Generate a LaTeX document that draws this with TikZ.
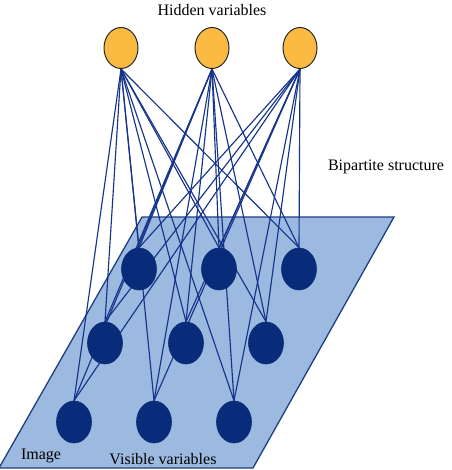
\documentclass[tikz,border=0pt]{standalone}
\usepackage{fontspec}
\setmainfont{Liberation Serif}
\usetikzlibrary{shapes.geometric}
\pgfdeclarelayer{bg}
\pgfdeclarelayer{edges}
\pgfsetlayers{bg,edges,main}
\definecolor{hidfill}{RGB}{251,186,66}
\definecolor{visfill}{RGB}{8,44,122}
\definecolor{planefill}{RGB}{156,185,223}
\definecolor{planeedge}{RGB}{30,62,130}
\definecolor{edgecol}{RGB}{22,52,140}
\tikzset{
  hidnode/.style={ellipse, draw=black!85, line width=1pt, fill=hidfill, minimum width=34pt, minimum height=41pt, inner sep=0pt},
  visnode/.style={ellipse, draw=visfill, line width=0.6pt, fill=visfill, minimum width=35pt, minimum height=42pt, inner sep=0pt},
  conn/.style={draw=edgecol, line width=1.15pt},
  lbl/.style={font=\fontsize{16}{18}\selectfont, inner sep=0pt}
}
\begin{document}
\begin{tikzpicture}[x=1pt,y=-1pt]
\useasboundingbox (0,0) rectangle (451,470);
\begin{pgfonlayer}{bg}
\path[fill=planefill, draw=planeedge, line width=1.3pt] (142,217) -- (394,217) -- (253,468) -- (-1,468) -- cycle;
\end{pgfonlayer}
\node[hidnode] (h1) at (121,48) {};
\node[hidnode] (h2) at (212,48) {};
\node[hidnode] (h3) at (300,48) {};
\node[visnode] (v1) at (139,269) {};
\node[visnode] (v2) at (219,269) {};
\node[visnode] (v3) at (299,269) {};
\node[visnode] (v4) at (105,343) {};
\node[visnode] (v5) at (186,343) {};
\node[visnode] (v6) at (266,343) {};
\node[visnode] (v7) at (74,422) {};
\node[visnode] (v8) at (154,422) {};
\node[visnode] (v9) at (234,422) {};
\begin{pgfonlayer}{edges}
\foreach \h in {h1,h2,h3}{
  \foreach \v in {v1,v2,v3,v4,v5,v6,v7,v8,v9}{
    \draw[conn] (\h.south) -- (\v.north);
  }
}
\end{pgfonlayer}
\node[lbl] (thid) at (212,10) {Hidden variables};
\node[lbl] (tbip) at (386,167) {Bipartite structure};
\node[lbl] (timg) at (41,456) {Image};
\node[lbl] (tvis) at (163,459) {Visible variables};
\end{tikzpicture}
\end{document}
